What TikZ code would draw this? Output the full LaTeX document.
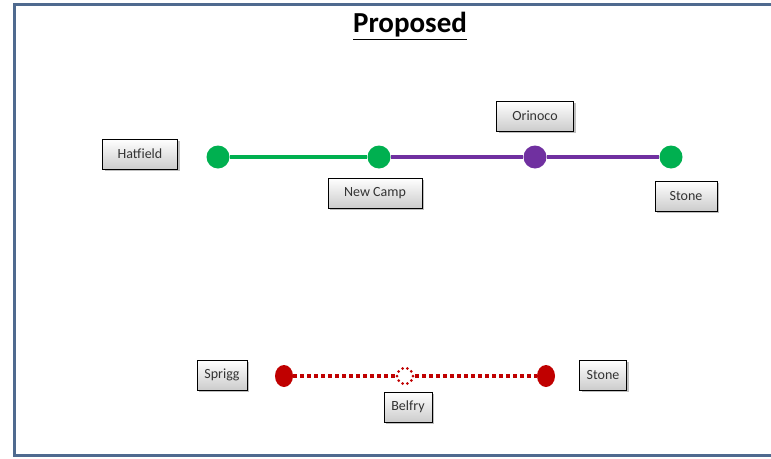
\documentclass[tikz,border=0pt]{standalone}
\usepackage{fontspec}
\setmainfont{Carlito}
\usetikzlibrary{shadows,shapes.geometric}
\definecolor{framecol}{HTML}{4F6A8F}
\definecolor{lgreen}{HTML}{00B050}
\definecolor{lpurple}{HTML}{7030A0}
\definecolor{lred}{HTML}{C00000}
\tikzset{
    stationbox/.style={draw=black, thick, top color=white, bottom color=gray!40, inner sep=4pt, minimum height=30pt, font=\fontsize{14}{16}\selectfont, text=black!80, drop shadow={shadow xshift=2pt, shadow yshift=-2pt, fill=black!50}},
    stop/.style={circle, fill=#1, inner sep=0pt, minimum size=23pt},
    redstop/.style={ellipse, fill=lred, inner sep=0pt, minimum width=18pt, minimum height=22pt},
    dotline/.style={lred, line width=3.5pt, dash pattern=on 3.5pt off 3.5pt}
}
\begin{document}
\begin{tikzpicture}[x=1pt, y=-1pt]
    \useasboundingbox (0,0) rectangle (771,458);
    \fill[white] (0,0) rectangle (771,458);
    \draw[framecol, line width=3pt] (14,4) -- (785,4) -- (785,455) -- (14,455) -- cycle;
    \node[font=\fontsize{29}{32}\selectfont\bfseries] (title) at (410,26) {\underline{Proposed}};

    % upper line
    \node[stop=lgreen] (hat) at (218,157) {};
    \node[stop=lgreen] (newc) at (379,157) {};
    \node[stop=lpurple] (ori) at (535,157) {};
    \node[stop=lgreen] (stn) at (671,157) {};
    \draw[lgreen, line width=3.5pt] (hat) -- (newc);
    \draw[lpurple, line width=3.5pt] (newc) -- (ori) -- (stn);

    \node[stationbox, minimum width=75pt] (hatlbl) at (140,154) {Hatfield};
    \node[stationbox, minimum width=94pt] (newclbl) at (375,193) {New Camp};
    \node[stationbox, minimum width=77pt] (orilbl) at (535,116) {Orinoco};
    \node[stationbox, minimum width=62pt] (stnlbl) at (686,196) {Stone};

    % lower line
    \node[circle, minimum size=20pt, inner sep=0pt] (bel) at (405,376) {};
    \node[redstop] (spr) at (284,376) {};
    \node[redstop] (stb) at (546,376) {};
    \draw[dotline] (spr) -- (bel) (bel) -- (stb);
    \draw[lred, line width=3pt, line cap=round, dash pattern=on 0pt off 5pt] (bel) circle (8pt);

    \node[stationbox, minimum width=50pt] (sprlbl) at (222,375) {Sprigg};
    \node[stationbox, minimum width=48pt] (bellbl) at (408,407) {Belfry};
    \node[stationbox, minimum width=47pt] (stblbl) at (603,375) {Stone};
\end{tikzpicture}
\end{document}
